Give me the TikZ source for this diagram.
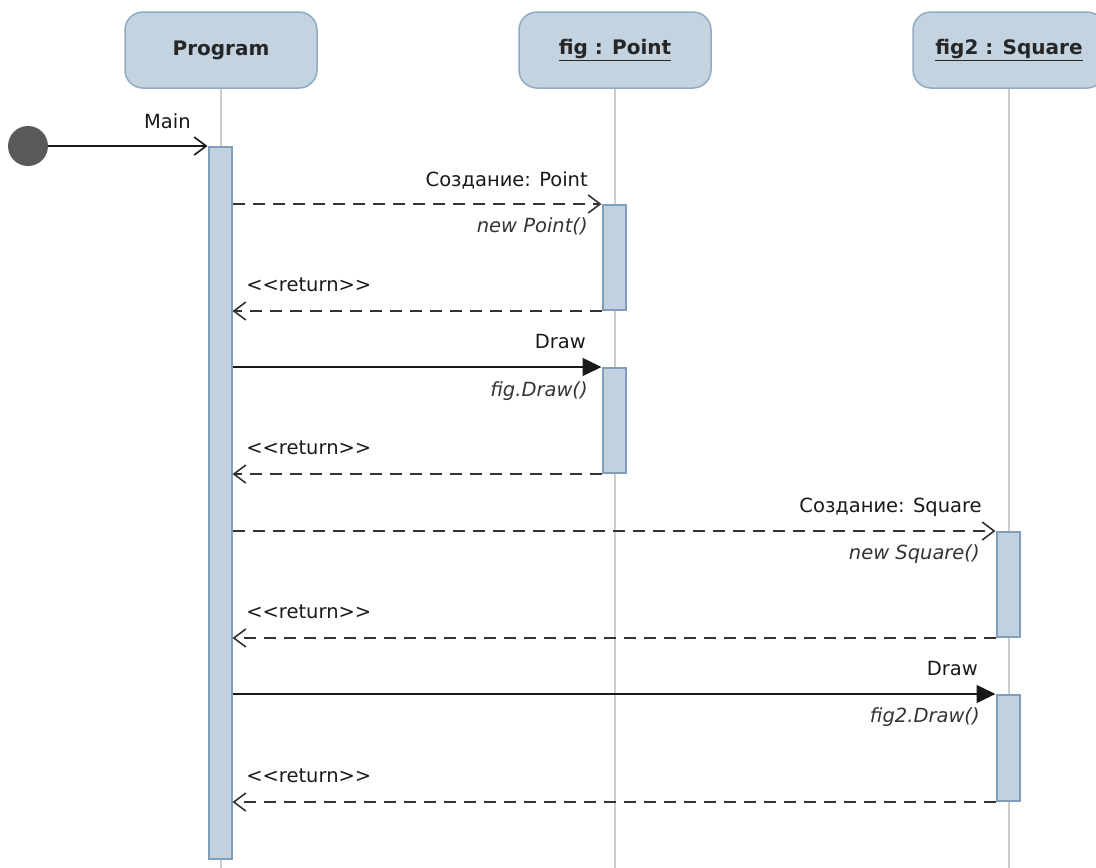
\documentclass[tikz,border=0pt]{standalone}
\usepackage{fontspec}
\setmainfont{DejaVu Sans}
\usepackage{xcolor}
\usepackage{tikz}
\usetikzlibrary{arrows.meta, positioning}

\definecolor{headfill}{HTML}{C3D3E0}
\definecolor{headedge}{HTML}{8FABC4}
\definecolor{actfill}{HTML}{C1D1DF}
\definecolor{actedge}{HTML}{7E9EBB}

\begin{document}
\begin{tikzpicture}[x=1pt, y=-1pt,
    head/.style={draw=headedge, fill=headfill, line width=1.5pt, rounded corners=18pt,
      minimum width=192pt, minimum height=76pt, font=\fontsize{20}{24}\selectfont\bfseries, text=black!85},
    act/.style={draw=actedge, fill=actfill, line width=2pt, minimum width=23pt, inner sep=0pt, anchor=north},
    lifeline/.style={draw=black!20, line width=2.8pt},
    call/.style={line width=1.6pt, black!90, -{Triangle[length=19pt, width=18pt]}},
    entry/.style={line width=1.6pt, black!90, -{Straight Barb[length=12pt, width=18pt]}},
    reply/.style={line width=1.6pt, black!80, dash pattern=on 12pt off 8pt, -{Straight Barb[length=12pt, width=18pt]}},
    msg/.style={font=\fontsize{19.5}{23}\selectfont, text=black!90, inner sep=0pt},
    op/.style={font=\fontsize{19.5}{23}\selectfont\itshape, text=black!80, inner sep=0pt},
  ]
    \useasboundingbox (0,0) rectangle (1096,868);
    \coordinate (bottom) at (0,868);

    % ── Lifeline heads ──
    \node[head] (prog) at (221,50) {Program};
    \node[head] (pt) at (615,50) {\underline{fig : Point}};
    \node[head] (sq) at (1009,50) {\underline{fig2 : Square}};
    \draw[lifeline] (prog.south) -- (prog.south |- bottom);
    \draw[lifeline] (pt.south) -- (pt.south |- bottom);
    \draw[lifeline] (sq.south) -- (sq.south |- bottom);

    % ── Activations ──
    \node[act, minimum height=712] (prog-act) at (220,146) {};
    \node[act, minimum height=105] (pt-act1) at (614,204) {};
    \node[act, minimum height=105] (pt-act2) at (614,367) {};
    \node[act, minimum height=105] (sq-act1) at (1008,531) {};
    \node[act, minimum height=106] (sq-act2) at (1008,694) {};

    % ── Entry point ──
    \node[circle, fill=black!65, minimum size=40pt, inner sep=0pt] (start) at (28,146) {};
    \draw[entry] (start) -- (prog-act.north west)
      node[msg, pos=1, anchor=base east, xshift=-16pt, yshift=18pt] (main-lbl) {Main};

    % ── Messages to fig ──
    \draw[reply] (prog-act.east |- pt-act1.north) -- (pt-act1.north west)
      node[msg, pos=1, anchor=base east, xshift=-13pt, yshift=18pt] (new-pt-lbl) {Создание: Point}
      node[op, pos=1, anchor=base east, xshift=-13pt, yshift=-28pt] (new-pt-op) {new Point()};
    \draw[reply] (pt-act1.south west) -- (prog-act.east |- pt-act1.south)
      node[msg, pos=1, anchor=base west, xshift=13pt, yshift=20pt] (ret1-lbl) {<{}<return>{}>};
    \draw[call] (prog-act.east |- pt-act2.north) -- (pt-act2.north west)
      node[msg, pos=1, anchor=base east, xshift=-15pt, yshift=19pt] (draw-pt-lbl) {Draw}
      node[op, pos=1, anchor=base east, xshift=-13pt, yshift=-29pt] (draw-pt-op) {fig.Draw()};
    \draw[reply] (pt-act2.south west) -- (prog-act.east |- pt-act2.south)
      node[msg, pos=1, anchor=base west, xshift=13pt, yshift=20pt] (ret2-lbl) {<{}<return>{}>};

    % ── Messages to fig2 ──
    \draw[reply] (prog-act.east |- sq-act1.north) -- (sq-act1.north west)
      node[msg, pos=1, anchor=base east, xshift=-13pt, yshift=19pt] (new-sq-lbl) {Создание: Square}
      node[op, pos=1, anchor=base east, xshift=-15pt, yshift=-28pt] (new-sq-op) {new Square()};
    \draw[reply] (sq-act1.south west) -- (prog-act.east |- sq-act1.south)
      node[msg, pos=1, anchor=base west, xshift=13pt, yshift=20pt] (ret3-lbl) {<{}<return>{}>};
    \draw[call] (prog-act.east |- sq-act2.north) -- (sq-act2.north west)
      node[msg, pos=1, anchor=base east, xshift=-17pt, yshift=19pt] (draw-sq-lbl) {Draw}
      node[op, pos=1, anchor=base east, xshift=-15pt, yshift=-28pt] (draw-sq-op) {fig2.Draw()};
    \draw[reply] (sq-act2.south west) -- (prog-act.east |- sq-act2.south)
      node[msg, pos=1, anchor=base west, xshift=13pt, yshift=20pt] (ret4-lbl) {<{}<return>{}>};
  \end{tikzpicture}
\end{document}
